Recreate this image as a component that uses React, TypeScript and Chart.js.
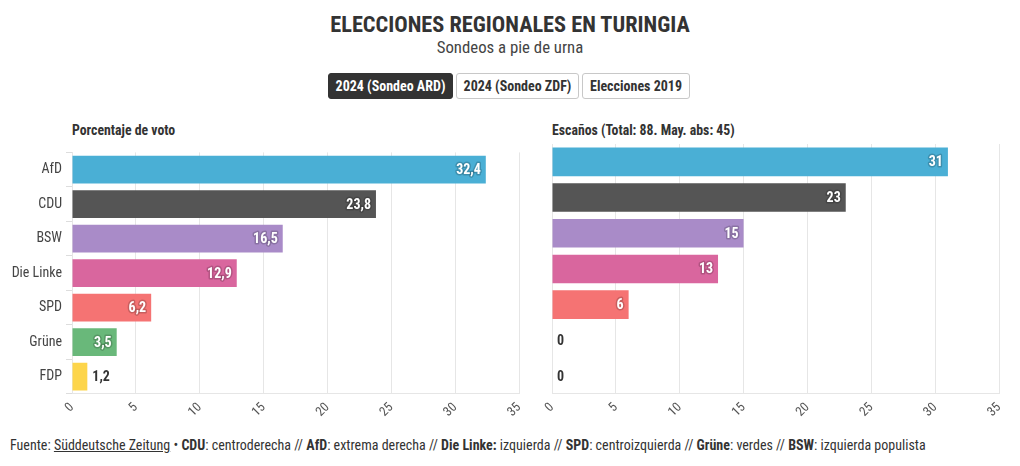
import React, { useEffect, useRef } from "react";
import { Chart, registerables } from "chart.js";

Chart.register(...registerables);

const parties = ["AfD", "CDU", "BSW", "Die Linke", "SPD", "Grüne", "FDP"];
const votes = [32.4, 23.8, 16.5, 12.9, 6.2, 3.5, 1.2];
const seats = [31, 23, 15, 13, 6, 0, 0];
const colors = ["#4aafd5", "#555555", "#a98bc8", "#d9669e", "#f57373", "#69b87a", "#fdd54b"];
const xTicks = [0, 5, 10, 15, 20, 25, 30, 35];

const FONT = "'Roboto Condensed', 'Liberation Sans Narrow', 'Arial Narrow', Roboto, sans-serif";

const fmt = (v: number, dec: boolean) => (dec ? v.toFixed(1).replace(".", ",") : String(v));

function makeLabelPlugin(dec: boolean) {
  return {
    id: "barLabels",
    afterDatasetsDraw(chart: any) {
      const ctx = chart.ctx;
      const meta = chart.getDatasetMeta(0);
      const data = chart.data.datasets[0].data as number[];
      ctx.save();
      ctx.font = `bold 14px ${FONT}`;
      ctx.textBaseline = "middle";
      meta.data.forEach((bar: any, i: number) => {
        const txt = fmt(data[i], dec);
        const w = ctx.measureText(txt).width;
        const left = chart.chartArea.left;
        const width = bar.x - left;
        if (width > w + 12) {
          ctx.textAlign = "right";
          ctx.lineWidth = 3;
          ctx.lineJoin = "round";
          ctx.strokeStyle = "rgba(0,0,0,0.18)";
          ctx.strokeText(txt, bar.x - 5, bar.y + 1);
          ctx.fillStyle = "#ffffff";
          ctx.fillText(txt, bar.x - 5, bar.y + 1);
        } else {
          ctx.textAlign = "left";
          ctx.fillStyle = "#333333";
          ctx.fillText(txt, bar.x + 5, bar.y + 1);
        }
      });
      ctx.restore();
    },
  };
}

function BarChart({ values, dec, showLabels, yWidth, padRight, w }: { values: number[]; dec: boolean; showLabels: boolean; yWidth: number; padRight: number; w: number }) {
  const ref = useRef<HTMLCanvasElement>(null);
  useEffect(() => {
    const chart = new Chart(ref.current as HTMLCanvasElement, {
      type: "bar",
      data: {
        labels: parties,
        datasets: [
          {
            data: values,
            backgroundColor: colors,
            borderWidth: 0,
            barPercentage: 1,
            categoryPercentage: 0.8,
          },
        ],
      },
      options: {
        indexAxis: "y",
        responsive: false,
        animation: false,
        layout: { padding: { top: 4, right: 0, bottom: 0, left: 0 } },
        plugins: { legend: { display: false }, tooltip: { enabled: false } },
        scales: {
          x: {
            min: 0,
            max: 35,
            afterBuildTicks: (s: any) => {
              s.ticks = xTicks.map((v) => ({ value: v }));
            },
            afterFit: (s: any) => {
              s.paddingRight = padRight;
              s.paddingLeft = 0;
            },
            ticks: {
              minRotation: 45,
              maxRotation: 45,
              color: "#555",
              font: { family: FONT, size: 13 },
              padding: 6,
            },
            grid: { color: "#e6e6e6", drawTicks: false },
            border: { color: "#e6e6e6" },
          },
          y: {
            afterFit: (s: any) => {
              s.width = yWidth;
            },
            ticks: {
              display: showLabels,
              color: "#444",
              font: { family: FONT, size: 14 },
              padding: 4,
            },
            grid: { drawOnChartArea: false, drawTicks: showLabels, tickLength: 6, color: "#dddddd" },
            border: { color: "#e6e6e6" },
          },
        },
      } as any,
      plugins: [makeLabelPlugin(dec)],
    });
    return () => chart.destroy();
  }, []);
  return <canvas ref={ref} width={w} height={286} />;
}

export default function App() {
  const btn = (label: string, active: boolean, left: number, width: number) => (
    <div
      style={{
        position: "absolute",
        left,
        top: 73,
        width,
        height: 26,
        boxSizing: "border-box",
        border: active ? "1px solid #333" : "1px solid #c8c8c8",
        background: active ? "#333333" : "#ffffff",
        color: active ? "#ffffff" : "#333333",
        borderRadius: 3,
        fontWeight: "bold",
        fontSize: 14,
        lineHeight: "24px",
        textAlign: "center",
        fontFamily: FONT,
      }}
    >
      {label}
    </div>
  );
  return (
    <div style={{ position: "absolute", left: 0, top: 0, width: 1020, height: 466, fontFamily: FONT, background: "#fff" }}>
      <div style={{ position: "absolute", top: 11, width: 1020, textAlign: "center", fontWeight: "bold", fontSize: 22.3, color: "#333" }}>
        ELECCIONES REGIONALES EN TURINGIA
      </div>
      <div style={{ position: "absolute", top: 37, width: 1020, textAlign: "center", fontSize: 16.8, color: "#444" }}>
        Sondeos a pie de urna
      </div>
      {btn("2024 (Sondeo ARD)", true, 328, 125)}
      {btn("2024 (Sondeo ZDF)", false, 456, 123)}
      {btn("Elecciones 2019", false, 582, 108)}
      <div style={{ position: "absolute", left: 72, top: 122, fontWeight: "bold", fontSize: 13.8, color: "#333", whiteSpace: "nowrap" }}>
        Porcentaje de voto
      </div>
      <div style={{ position: "absolute", left: 552, top: 122, fontWeight: "bold", fontSize: 13.8, color: "#333", whiteSpace: "nowrap" }}>
        Escaños (Total: 88. May. abs: 45)
      </div>
      <div style={{ position: "absolute", left: 0, top: 140 }}>
        <BarChart values={votes} dec={true} showLabels={true} yWidth={72} padRight={11} w={530} />
      </div>
      <div style={{ position: "absolute", left: 530, top: 140 }}>
        <BarChart values={seats} dec={false} showLabels={false} yWidth={22} padRight={11} w={480} />
      </div>
      <div style={{ position: "absolute", left: 10, top: 437, fontSize: 14, color: "#333", whiteSpace: "nowrap" }}>
        Fuente: <span style={{ textDecoration: "underline" }}>Süddeutsche Zeitung</span> • <b>CDU</b>: centroderecha // <b>AfD</b>: extrema
        derecha // <b>Die Linke:</b> izquierda // <b>SPD</b>: centroizquierda // <b>Grüne</b>: verdes // <b>BSW</b>: izquierda populista
      </div>
    </div>
  );
}
